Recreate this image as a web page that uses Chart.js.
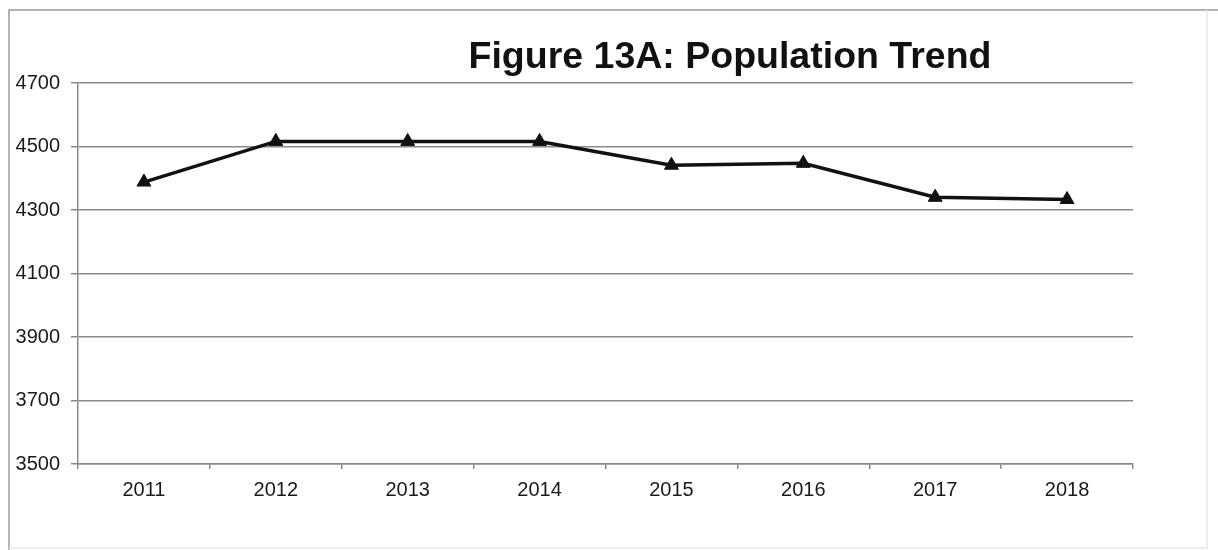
<!DOCTYPE html>
<html>
<head>
<meta charset="utf-8">
<title>Population Trend</title>
<script src="https://cdn.jsdelivr.net/npm/chart.js@4/dist/chart.umd.min.js"></script>
<style>
    body { margin: 0; background: #fff; }
    canvas { display: block; }
</style>
</head>
<body>
<canvas id="trend_canvas" width="1218" height="550"></canvas>
<script>
const years = ['2011', '2012', '2013', '2014', '2015', '2016', '2017', '2018']
const population = [4388, 4516, 4516, 4516, 4441, 4447, 4340, 4333]
const yTicks = [3500, 3700, 3900, 4100, 4300, 4500, 4700]
const chartTitle = 'Figure 13A: Population Trend'

const FONT = '"Liberation Sans", Arial, sans-serif'

// white page with the thin grey frame round the figure
const framePlugin = {
    id: 'frame',
    beforeDraw(chart) {
        const ctx = chart.ctx
        ctx.save()
        ctx.fillStyle = '#fff'
        ctx.fillRect(0, 0, chart.width, chart.height)
        ctx.lineWidth = 1.5
        ctx.strokeStyle = '#9a9a9a'
        ctx.beginPath()
        ctx.moveTo(9, chart.height)
        ctx.lineTo(9, 10)
        ctx.lineTo(chart.width, 10)
        ctx.stroke()
        ctx.strokeStyle = '#e8e8e8'
        ctx.beginPath()
        ctx.moveTo(1207, 10)
        ctx.lineTo(1207, 548)
        ctx.lineTo(9, 548)
        ctx.stroke()
        ctx.restore()
    }
}

// the title sits right of centre, above the plot
const titlePlugin = {
    id: 'figTitle',
    afterDraw(chart) {
        const ctx = chart.ctx
        const area = chart.chartArea
        ctx.save()
        ctx.font = 'bold 37.5px ' + FONT
        ctx.fillStyle = '#111'
        ctx.textAlign = 'center'
        ctx.textBaseline = 'alphabetic'
        ctx.fillText(chartTitle, area.left + (area.right - area.left) * 0.618, area.top - 15)
        ctx.restore()
    }
}

const setup = {
    labels: years,
    datasets: [{
        label: 'Population',
        data: population,
        borderColor: '#111',
        borderWidth: 3.5,
        tension: 0,
        fill: false,
        pointStyle: 'triangle',
        pointRadius: 8,
        pointBackgroundColor: '#111',
        pointBorderColor: '#111',
        pointBorderWidth: 1
    }]
}

const chart = new Chart(document.getElementById('trend_canvas'), {
    type: 'line',
    data: setup,
    plugins: [framePlugin, titlePlugin],
    options: {
        responsive: false,
        animation: false,
        layout: {
            padding: { top: 83, right: 85, left: 0, bottom: 0 }
        },
        plugins: {
            legend: { display: false },
            title: { display: false },
            tooltip: { enabled: false }
        },
        scales: {
            x: {
                offset: true,
                afterFit: scale => { scale.height = 86 },
                grid: {
                    offset: true,
                    drawOnChartArea: false,
                    drawTicks: true,
                    tickLength: 5,
                    color: '#8a8a8a',
                    lineWidth: 1.5
                },
                border: { display: true, color: '#8a8a8a', width: 1.5 },
                ticks: {
                    color: '#1a1a1a',
                    padding: 9,
                    maxRotation: 0,
                    font: { family: FONT, size: 20 }
                }
            },
            y: {
                min: 3500,
                max: 4700,
                afterFit: scale => { scale.width = 78 },
                afterBuildTicks: scale => {
                    scale.ticks = yTicks.map(v => ({ value: v }))
                },
                grid: {
                    color: '#8a8a8a',
                    lineWidth: 1.5,
                    tickLength: 7
                },
                border: { display: true, color: '#8a8a8a', width: 1.5 },
                ticks: {
                    color: '#1a1a1a',
                    padding: 11,
                    font: { family: FONT, size: 20 },
                    callback: v => String(v)
                }
            }
        }
    }
})
</script>
</body>
</html>
